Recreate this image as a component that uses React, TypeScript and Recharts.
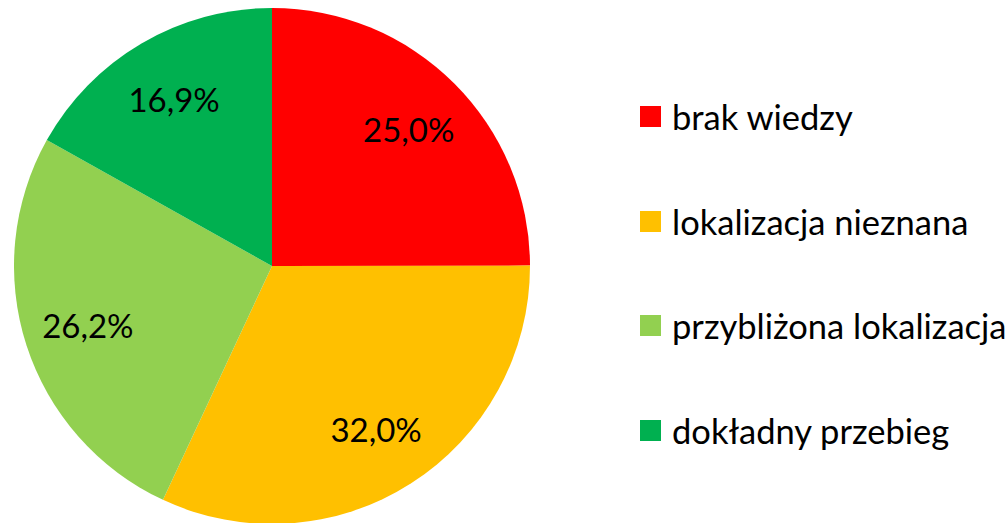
import { PieChart, Pie, Cell, Legend } from "recharts";

// ── Data ───────────────────────────────────────────────────────────

const categories = [
  "brak wiedzy",
  "lokalizacja nieznana",
  "przybliżona lokalizacja",
  "dokładny przebieg",
];
const values = [25.0, 32.0, 26.2, 16.9];
const colors = ["#FF0000", "#FFC000", "#92D050", "#00B050"];

const FONT = "Lato, 'Open Sans', sans-serif";

const data = categories.map((name, i) => ({ name, value: values[i] }));

const RADIAN = Math.PI / 180;

function renderLabel(props: any) {
  const { cx, cy, midAngle, outerRadius, value } = props;
  const r = outerRadius * 0.75;
  const x = cx + r * Math.cos(-midAngle * RADIAN);
  const y = cy + r * Math.sin(-midAngle * RADIAN);
  return (
    <text
      x={x}
      y={y}
      textAnchor="middle"
      dominantBaseline="central"
      fill="#000"
      fontSize={33}
      fontFamily={FONT}
    >
      {value.toFixed(1).replace(".", ",")}%
    </text>
  );
}

function LegendContent() {
  return (
    <div style={{ fontFamily: FONT, fontSize: 34.5, color: "#000" }}>
      {categories.map((c, i) => (
        <div
          key={c}
          style={{ display: "flex", alignItems: "center", height: 104.7 }}
        >
          <span
            style={{
              width: 21,
              height: 21,
              background: colors[i],
              marginRight: 11,
              flexShrink: 0,
            }}
          />
          <span style={{ whiteSpace: "nowrap" }}>{c}</span>
        </div>
      ))}
    </div>
  );
}

export default function App() {
  return (
    <div style={{ position: "absolute", left: 0, top: 0, background: "#fff" }}>
      <PieChart
        width={1008}
        height={523}
        margin={{ top: 0, right: 0, bottom: 0, left: 0 }}
      >
        <Pie
          data={data}
          dataKey="value"
          nameKey="name"
          cx={272}
          cy={266}
          outerRadius={258}
          startAngle={90}
          endAngle={-270}
          stroke="none"
          label={renderLabel}
          labelLine={false}
          isAnimationActive={false}
        >
          {data.map((d, i) => (
            <Cell key={d.name} fill={colors[i]} />
          ))}
        </Pie>
        <Legend
          content={<LegendContent />}
          wrapperStyle={{ position: "absolute", left: 640, top: 64, width: 368 }}
        />
      </PieChart>
    </div>
  );
}
